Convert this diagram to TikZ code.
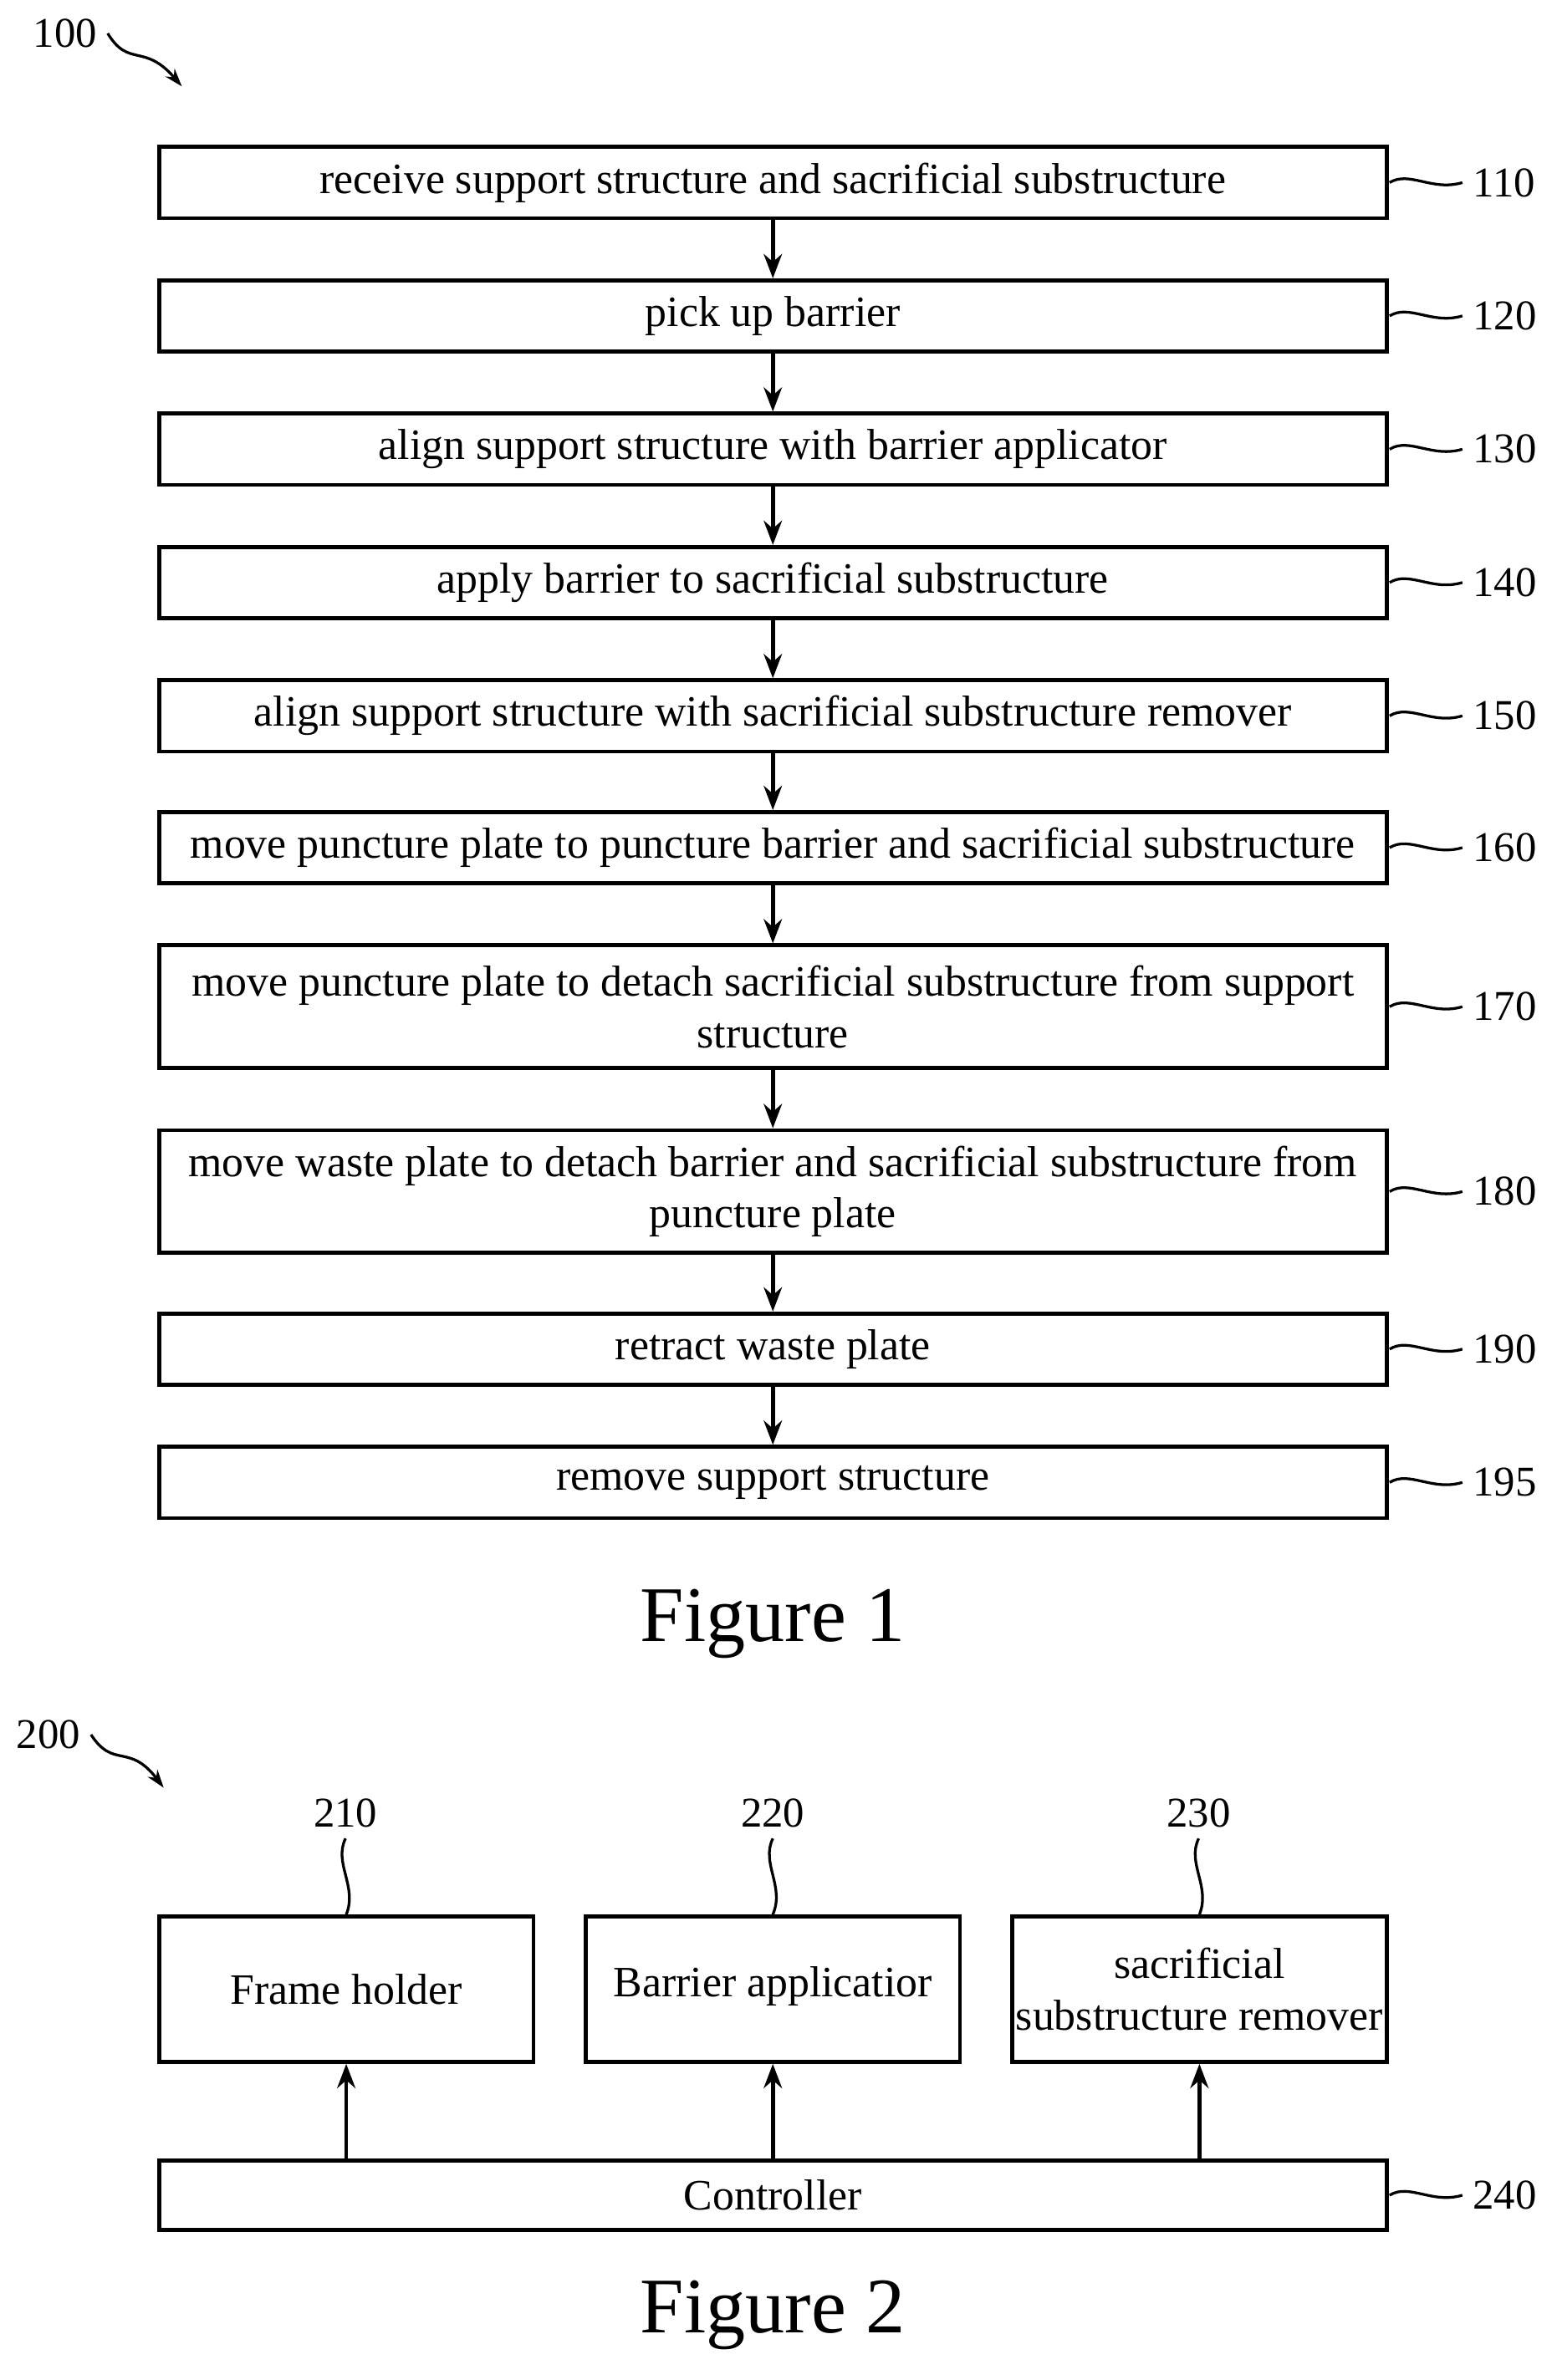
\documentclass[tikz,border=0pt]{standalone}
\usepackage{fontspec}
\setmainfont{Liberation Serif}
\usetikzlibrary{arrows.meta}
\begin{document}
\begin{tikzpicture}[x=0.5pt,y=-0.5pt,
 box/.style={draw,line width=1.3pt,inner sep=0pt,font=\fontsize{14.3}{17}\selectfont,align=center},
 lab/.style={font=\fontsize{14}{16}\selectfont},
 arr/.style={-{Stealth[length=8pt,width=6pt]},line width=1.3pt},
 sq/.style={line width=0.9pt}]
\useasboundingbox (0,0) rectangle (1024,1571);
\def\bx#1#2#3#4#5{\node[box,minimum width=405pt,minimum height={(#4-#3)*0.5pt}] (#1) at (510,{(#3+#4)/2}) {#5};
 \coordinate (#1e) at (915,{(#3+#4)/2});
 \node[lab,anchor=west] (#1l) at (965,{(#3+#4)/2}) {#2};
 \draw[sq] (917,{(#3+#4)/2}) .. controls (930,{(#3+#4)/2-8}) and (945,{(#3+#4)/2+6}) .. (#1l.west);}
\bx{a}{110}{97}{144}{receive support structure and sacrificial substructure}
\bx{b}{120}{185}{232}{pick up barrier}
\bx{c}{130}{273}{320}{align support structure with barrier applicator}
\bx{d}{140}{361}{408}{apply barrier to sacrificial substructure}
\bx{e}{150}{449}{496}{align support structure with sacrificial substructure remover}
\bx{f}{160}{536}{583}{move puncture plate to puncture barrier and sacrificial substructure}
\bx{g}{170}{624}{705}{move puncture plate to detach sacrificial substructure from support\\structure}
\bx{h}{180}{746}{827}{move waste plate to detach barrier and sacrificial substructure from\\puncture plate}
\bx{i}{190}{867}{914}{retract waste plate}
\bx{j}{195}{955}{1002}{remove support structure}
\foreach \p/\q in {a/b,b/c,c/d,d/e,e/f,f/g,g/h,h/i,i/j} \draw[arr] (\p.south) -- (\q.north);
\node[font=\fontsize{26}{30}\selectfont] (f1) at (510,1072) {Figure 1};
\node[lab] (n100) at (43,22) {100};
\coordinate (t100) at (120,57);
\draw[sq,-{Stealth[length=6pt,width=4pt]}] (n100.east) .. controls (85,45) and (95,28) .. (t100);
\node[lab] (n200) at (32,1145) {200};
\coordinate (t200) at (108,1180);
\draw[sq,-{Stealth[length=6pt,width=4pt]}] (n200.east) .. controls (75,1168) and (85,1150) .. (t200);
\tikzset{sb/.style={box,minimum width=123.5pt,minimum height=48pt}}
\node[sb] (k1) at (228.5,1313) {Frame holder};
\node[sb] (k2) at (510,1313) {};
\node[box,draw=none] at (510,1311) {Barrier applicatior};
\node[sb] (k3) at (791.5,1313) {sacrificial\\substructure remover};
\node[box,minimum width=405pt,minimum height=23pt] (ctl) at (510,1449) {Controller};
\node[lab,anchor=west] (l240) at (965,1449) {240};
\draw[sq] (917,1449) .. controls (930,1441) and (945,1455) .. (l240.west);
\foreach \k/\x/\t in {k1/228/210,k2/510/220,k3/791/230}{
 \node[lab] (l\t) at (\x,1197) {\t};
 \draw[sq] (l\t.south) .. controls (\x-8,1230) and (\x+8,1245) .. (\k.north);
 \draw[arr] (\k.south |- ctl.north) -- (\k.south);}
\node[font=\fontsize{26}{30}\selectfont] (f2) at (510,1528) {Figure 2};
\end{tikzpicture}
\end{document}
